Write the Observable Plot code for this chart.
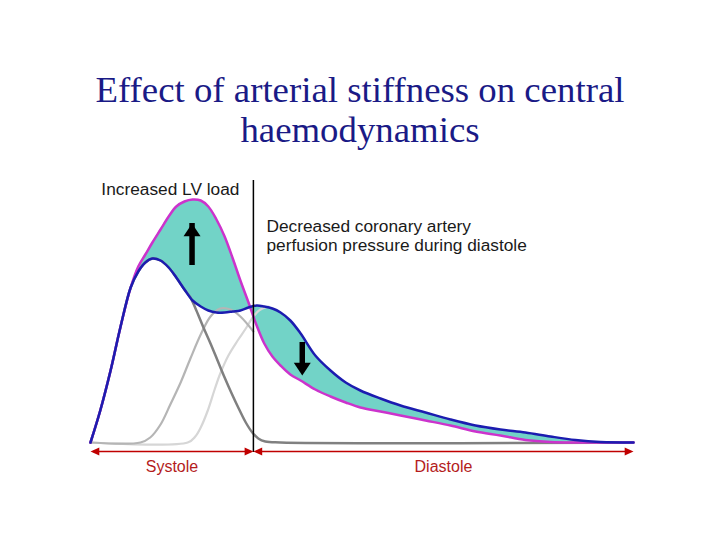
<!DOCTYPE html>
<html><head><meta charset="utf-8">
<script src="https://cdn.jsdelivr.net/npm/d3@7"></script>
<script src="https://cdn.jsdelivr.net/npm/@observablehq/plot@0.6"></script>
<style>
html,body{margin:0;padding:0;background:#fff;}
#page{width:720px;height:540px;overflow:hidden;background:#fff;}
#title{height:160px;box-sizing:border-box;padding-top:70px;text-align:center;font-family:"Liberation Serif","Times New Roman",serif;font-size:36.8px;line-height:40px;color:#1a1a86;white-space:nowrap;}
#chart svg{display:block;}
</style></head><body>
<div id="page"><div id="title">Effect of arterial stiffness on central<br>haemodynamics</div><div id="chart"></div></div>
<script>
// time within one cardiac cycle (ms) and pressure (arbitrary units)
const time = [0,18,37,55,74,88,101,114,129,144,158,173,188,203,217,232,247,262,276,291,306,320,335,350,368,387,414,442,470,497,534,571,617,663,709,755,801,847,893,939,1000];
const normalPressure = [0,12.8,28.8,46,62,68.4,72,73.6,72.8,70,66,61.2,56.8,54.4,52.8,52,52,52.4,52.8,54,54.8,54.4,53.6,52,48.8,43.6,34.8,28.8,24,20.8,17.6,14.8,12,9.2,6.8,5.2,4,2.4,1,0.2,0];
const stiffPressure = [0,12.8,28.8,46,62,70.4,75.2,80,85.2,90.4,94.4,96.4,97.2,96.8,94.4,89.2,82.4,73.6,64.8,56,46.8,39.6,34.4,30.8,27.2,24.8,21.2,18.4,16,14,12.4,10.8,8.8,6.8,4.4,2.8,1,0.2,0,0,0];

// forward (incident) wave
const forwardTime = [0,18,37,55,74,88,101,114,129,144,158,173,184,195,208,221,234,247,260,273,286,298,309,322,350,1000];
const forwardWave = [0,12.8,28.8,46,62,68.4,72,73.6,72.8,70,66,61.2,58,52.8,46,39.6,32.8,26,19.6,13.6,8,4,1.6,0.4,0,0];

// early reflected wave (stiff arteries)
const earlyReflTime = [0,92,110,129,147,166,184,203,221,239,258,276,300];
const earlyRefl = [0,0,2,7.2,15.2,24,33.6,43.2,50.4,53.6,53.2,50.4,44.4];

// late reflected wave (normal arteries)
const lateReflTime = [0,179,193,203,216,228,239,254,271,286,300,313,328];
const lateRefl = [0,0,2.4,6,12.8,20.8,27.6,34.8,40.8,45.6,50.4,53.2,54.4];

// phases of the cycle
const phaseNames = ["Systole","Diastole"];
const phaseStart = [0,300];
const phaseEnd = [300,1000];
const systoleEnd = 300;

// annotations
const noteTexts = ["Increased LV load","Decreased coronary artery\nperfusion pressure during diastole"];
const noteTime = [20,324];
const notePressure = [99.2,76.8];

// change arrows
const changeTime = [187,390];
const changeFrom = [74.8,40];
const changeTo = [87.6,26.8];

const rows = time.map((t,i)=>({t, normal: normalPressure[i], stiff: stiffPressure[i]}));
const fwd = forwardTime.map((t,i)=>({t, p: forwardWave[i]}));
const early = earlyReflTime.map((t,i)=>({t, p: earlyRefl[i]}));
const late = lateReflTime.map((t,i)=>({t, p: lateRefl[i]}));
const phases = phaseNames.map((n,i)=>({name:n, start:phaseStart[i], end:phaseEnd[i], mid:(phaseStart[i]+phaseEnd[i])/2}));
const notes = noteTexts.map((s,i)=>({label:s, t:noteTime[i], p:notePressure[i]}));
const changes = changeTime.map((t,i)=>({t, from:changeFrom[i], to:changeTo[i], up: changeTo[i] > changeFrom[i]}));
const arrowLevel = -3.6;
const heads = phases.flatMap(d=>[{t:d.start, dir:-90},{t:d.end, dir:90}]);

function arrowHead(ratio){
  return {draw(ctx,size){const r=Math.sqrt(size/Math.PI);ctx.moveTo(0,0);ctx.lineTo(-r,r*ratio);ctx.lineTo(r,r*ratio);ctx.closePath();}};
}
const blackHead = arrowHead(1.5);
const redHead = arrowHead(2.2);

const curve = "catmull-rom";
const blue = "#1c1cb0", magenta = "#cc33cc", teal = "#72d3c7", red = "#c00000", redText = "#b41c1c";

const chart = Plot.plot({
  width:720, height:380,
  marginLeft:90, marginRight:87, marginTop:32, marginBottom:98,
  x:{domain:[0,1000], axis:null},
  y:{domain:[0,100], axis:null},
  style:{fontFamily:"'Liberation Sans', Arial, sans-serif", background:"white", overflow:"visible"},
  marks:[
    Plot.areaY(rows,{x:"t", y1:"normal", y2:"stiff", fill:teal, curve}),
    Plot.line(late,{x:"t", y:"p", stroke:"#d6d6d6", strokeWidth:2.2, curve}),
    Plot.line(early,{x:"t", y:"p", stroke:"#b5b5b5", strokeWidth:2.2, curve}),
    Plot.line(fwd,{x:"t", y:"p", stroke:"#808080", strokeWidth:2.5, curve}),
    Plot.line(rows,{x:"t", y:"stiff", stroke:magenta, strokeWidth:2.5, curve}),
    Plot.line(rows,{x:"t", y:"normal", stroke:blue, strokeWidth:2.5, curve}),
    Plot.ruleX([systoleEnd],{y1:-4, y2:104.8, stroke:"#000", strokeWidth:1.5}),
    Plot.ruleX(changes.filter(d=>d.up),{x:"t", y1:"from", y2:"to", stroke:"#000", strokeWidth:5.5, insetTop:10}),
    Plot.ruleX(changes.filter(d=>!d.up),{x:"t", y1:"from", y2:"to", stroke:"#000", strokeWidth:5.5, insetBottom:10}),
    Plot.dot(changes,{x:"t", y:"to", r:8.5, symbol:blackHead, fill:"#000", stroke:"none", rotate:d=>d.up?0:180}),
    Plot.ruleY(phases,{y:arrowLevel, x1:"start", x2:"end", stroke:red, strokeWidth:1.5, insetLeft:3, insetRight:3}),
    Plot.dot(heads,{x:"t", y:arrowLevel, r:4, symbol:redHead, fill:red, stroke:"none", rotate:"dir"}),
    Plot.text(phases,{x:"mid", y:arrowLevel, text:"name", dy:20, lineAnchor:"bottom", fontSize:16, fill:redText}),
    Plot.text(notes,{x:"t", y:"p", text:"label", textAnchor:"start", lineAnchor:"bottom", lineHeight:1.08, fontSize:17.3, fill:"#1a1a1a"})
  ]
});
document.getElementById("chart").appendChild(chart);
</script></body></html>
